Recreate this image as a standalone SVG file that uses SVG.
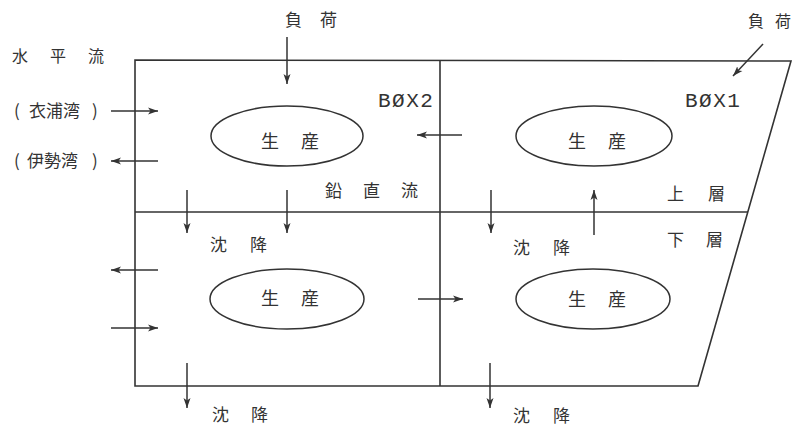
<svg xmlns="http://www.w3.org/2000/svg" width="799" height="426" viewBox="0 0 799 426">
<style>
.ln{fill:none;stroke:#333;stroke-width:1.6}
.el{fill:none;stroke:#333;stroke-width:1.5}
.ar{fill:none;stroke:#333;stroke-width:1.5;marker-end:url(#ah)}
.t{font-family:"Noto Sans CJK JP","Noto Sans CJK SC",sans-serif;fill:#333}
.b{font-family:"Liberation Mono","DejaVu Sans Mono",monospace;fill:#333;font-size:21px;letter-spacing:1.5px}
</style>
<defs>
<marker id="ah" markerWidth="11" markerHeight="9" refX="10" refY="4.5" orient="auto" markerUnits="userSpaceOnUse">
<path d="M0,1 L10,4.5 L0,8 L2.5,4.5 z" fill="#333"/>
</marker>
</defs>
<rect width="799" height="426" fill="#fff"/>
<g id="frame">
<path class="ln" d="M135,60 L791,61 L698,386 L135,386 Z"/>
<line class="ln" x1="440" y1="60" x2="440" y2="386"/>
<line class="ln" x1="135" y1="212" x2="748" y2="212"/>
</g>
<g id="box2-upper">
<ellipse class="el" cx="287" cy="136" rx="76" ry="30"/>
<text class="t" x="261" y="148" font-size="18" letter-spacing="22">生産</text>
<text class="b" x="378" y="107">BØX2</text>
<text class="t" x="325" y="197" font-size="17" letter-spacing="21">鉛直流</text>
</g>
<g id="box1-upper">
<ellipse class="el" cx="594" cy="136" rx="78" ry="30"/>
<text class="t" x="568" y="148" font-size="18" letter-spacing="22">生産</text>
<text class="b" x="685" y="107">BØX1</text>
<text class="t" x="667" y="200" font-size="17" letter-spacing="24">上層</text>
</g>
<g id="box2-lower">
<ellipse class="el" cx="287" cy="299" rx="77" ry="30"/>
<text class="t" x="261" y="305" font-size="18" letter-spacing="22">生産</text>
</g>
<g id="box1-lower">
<ellipse class="el" cx="593" cy="299" rx="77" ry="30"/>
<text class="t" x="568" y="306" font-size="18" letter-spacing="22">生産</text>
<text class="t" x="667" y="246" font-size="17" letter-spacing="22">下層</text>
</g>
<g id="labels">
<text class="t" x="285" y="26" font-size="17" letter-spacing="18">負荷</text>
<text class="t" x="748" y="27" font-size="16"><tspan>負</tspan><tspan x="775">荷</tspan></text>
<text class="t" x="12" y="62" font-size="16" letter-spacing="22">水平流</text>
<text class="t" x="14" y="117" font-size="17"><tspan>(</tspan><tspan x="29">衣浦湾</tspan><tspan x="92">)</tspan></text>
<text class="t" x="14" y="167" font-size="17"><tspan>(</tspan><tspan x="27">伊勢湾</tspan><tspan x="92">)</tspan></text>
<text class="t" x="210" y="251" font-size="17" letter-spacing="23">沈降</text>
<text class="t" x="513" y="254" font-size="17" letter-spacing="23">沈降</text>
<text class="t" x="212" y="421" font-size="17" letter-spacing="22">沈降</text>
<text class="t" x="513" y="422" font-size="17" letter-spacing="23">沈降</text>
</g>
<g id="connectors">
<line class="ar" x1="287" y1="37" x2="287" y2="84"/>
<line class="ar" x1="763" y1="44" x2="733" y2="76"/>
<line class="ar" x1="111" y1="111" x2="158" y2="111"/>
<line class="ar" x1="158" y1="161" x2="111" y2="161"/>
<line class="ar" x1="462" y1="135" x2="417" y2="135"/>
<line class="ar" x1="187" y1="190" x2="187" y2="233"/>
<line class="ar" x1="287" y1="190" x2="287" y2="233"/>
<line class="ar" x1="491" y1="190" x2="491" y2="233"/>
<line class="ar" x1="594" y1="235" x2="594" y2="190"/>
<line class="ar" x1="158" y1="270" x2="111" y2="270"/>
<line class="ar" x1="111" y1="328" x2="158" y2="328"/>
<line class="ar" x1="418" y1="299" x2="463" y2="299"/>
<line class="ar" x1="187" y1="363" x2="187" y2="408"/>
<line class="ar" x1="490" y1="363" x2="490" y2="408"/>
</g>
</svg>
